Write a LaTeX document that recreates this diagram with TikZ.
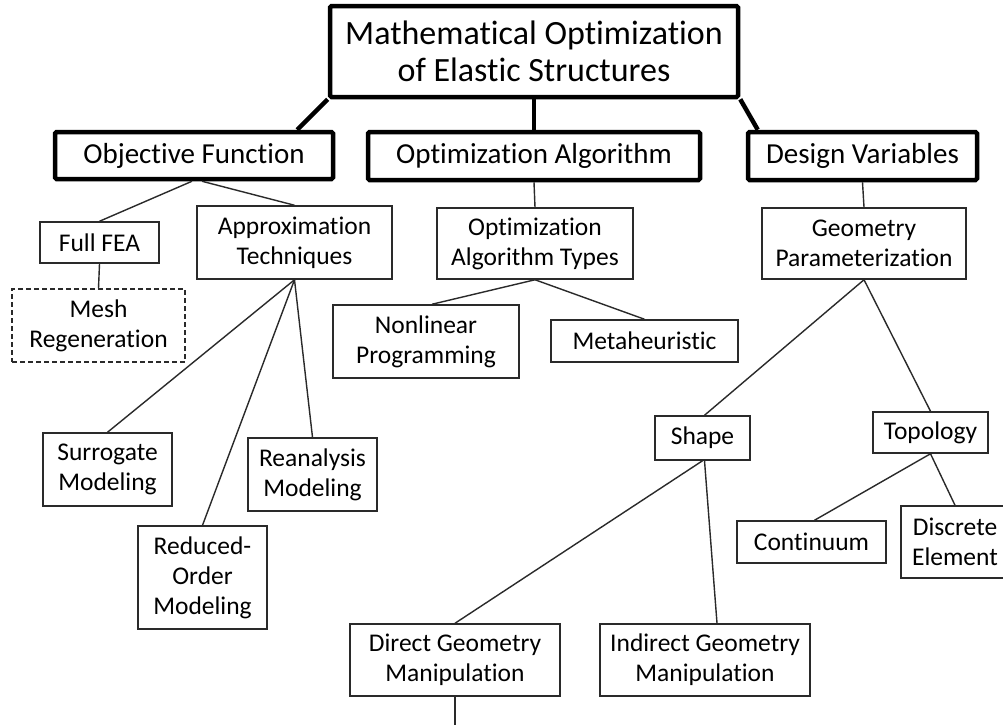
\documentclass[tikz,border=0pt]{standalone}
\usepackage{fontspec}
\setmainfont{Carlito}[Ligatures=NoCommon]
\usetikzlibrary{calc}
\definecolor{linec}{HTML}{2A2A2A}
\tikzset{
  box/.style={draw=linec, line width=1.5pt, fill=white, inner sep=0pt, align=center,
    font=\fontsize{25.5}{30}\selectfont},
  topbox/.style={draw=black, line width=4.5pt, rounded corners=1.5pt, fill=white, inner sep=0pt, align=center,
    font=\fontsize{29}{34}\selectfont},
  titlebox/.style={topbox, font=\fontsize{34}{37}\selectfont},
  conn/.style={draw=linec, line width=1.4pt},
  thickconn/.style={draw=black, line width=4.5pt},
}
\begin{document}
\begin{tikzpicture}[x=1pt,y=-1pt]
\path[use as bounding box, fill=white] (0,0) rectangle (1003,724);

\node[titlebox, minimum width=408pt, minimum height=91pt] (title) at (534,51.5) {Mathematical Optimization\\of Elastic Structures};
\node[topbox, minimum width=278pt, minimum height=47pt] (obj) at (194,155.5) {Objective Function};
\node[topbox, minimum width=332pt, minimum height=48pt] (alg) at (534,156) {Optimization Algorithm};
\node[topbox, minimum width=229pt, minimum height=48pt] (dv) at (862.5,156) {Design Variables};

\node[box, minimum width=119pt, minimum height=41pt] (fea) at (99.5,242.5) {Full FEA};
\node[box, minimum width=195pt, minimum height=73pt] (approx) at (294.5,242.5) {Approximation\\Techniques};
\node[box, dash pattern=on 5pt off 3pt, minimum width=173pt, minimum height=73pt] (mesh) at (98.5,325.5) {Mesh\\Regeneration};
\node[box, minimum width=196pt, minimum height=71pt] (oat) at (535,243.5) {Optimization\\Algorithm Types};
\node[box, minimum width=186pt, minimum height=73pt] (nlp) at (426,341.5) {Nonlinear\\Programming};
\node[box, minimum width=187pt, minimum height=42pt] (meta) at (644.5,341) {Metaheuristic};
\node[box, minimum width=204pt, minimum height=71pt] (gp) at (864,243.5) {Geometry\\Parameterization};

\node[box, minimum width=129pt, minimum height=73pt] (sur) at (107.5,469.5) {Surrogate\\Modeling};
\node[box, minimum width=129pt, minimum height=73pt] (rea) at (312.5,474.5) {Reanalysis\\Modeling};
\node[box, minimum width=129pt, minimum height=103pt] (rom) at (202.5,577.5) {Reduced-\\Order\\Modeling};

\node[box, minimum width=95pt, minimum height=44pt] (shape) at (702.5,438) {Shape};
\node[box, minimum width=115pt, minimum height=41pt] (topo) at (930.5,432.5) {Topology};
\node[box, minimum width=149pt, minimum height=42pt] (cont) at (811.5,542) {Continuum};
\node[box, minimum width=108pt, minimum height=72pt] (disc) at (955,542) {Discrete\\Element};
\node[box, minimum width=210pt, minimum height=72pt] (dgm) at (455,660) {Direct Geometry\\Manipulation};
\node[box, minimum width=210pt, minimum height=72pt] (igm) at (705,660) {Indirect Geometry\\Manipulation};

\coordinate (dgmend) at (455,726);

% thick connectors
\draw[thickconn] (title.south west) -- ($(obj.north east)+(-38,0)$);
\draw[thickconn] (title.south) -- (alg.north);
\draw[thickconn] (title.south east) -- ($(dv.north west)+(12,0)$);

% thin connectors
\draw[conn] ($(obj.south)+(-2,0)$) -- (fea.north);
\draw[conn] ($(obj.south)+(8,0)$) -- (approx.north);
\draw[conn] (fea.south) -- (mesh.north);
\draw[conn] (approx.south) -- (sur.north);
\draw[conn] (approx.south) -- (rea.north);
\draw[conn] (approx.south) -- (rom.north);
\draw[conn] (alg.south) -- (oat.north);
\draw[conn] (oat.south) -- ($(nlp.north)+(6,0)$);
\draw[conn] (oat.south) -- (meta.north);
\draw[conn] (dv.south) -- (gp.north);
\draw[conn] (gp.south) -- ($(shape.north)+(2,0)$);
\draw[conn] (gp.south) -- (topo.north);
\draw[conn] (shape.south) -- (dgm.north);
\draw[conn] ($(shape.south)+(2,0)$) -- ($(igm.north)+(12,0)$);
\draw[conn] (topo.south) -- ($(cont.north)+(3,0)$);
\draw[conn] (topo.south) -- (disc.north);
\draw[conn] (dgm.south) -- (dgmend);
\end{tikzpicture}
\end{document}
